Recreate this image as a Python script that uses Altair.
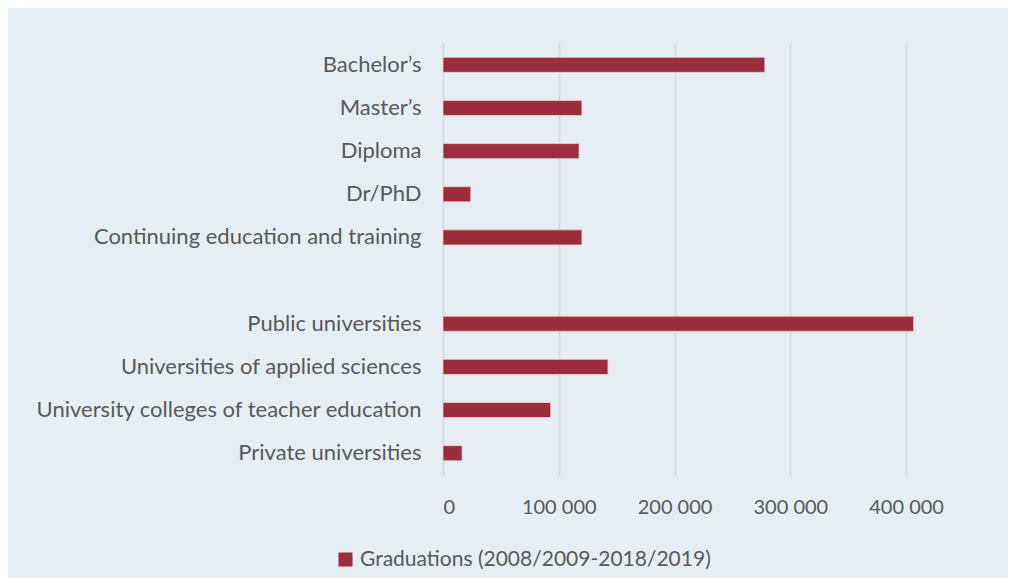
import altair as alt
import pandas as pd

categories = [
    "Bachelor’s",
    "Master’s",
    "Diploma",
    "Dr/PhD",
    "Continuing education and training",
    "Public universities",
    "Universities of applied sciences",
    "University colleges of teacher education",
    "Private universities",
]
values = [278000, 120000, 117500, 24000, 120000, 406500, 142500, 93000, 16500]
series_name = "Graduations (2008/2009-2018/2019)"
y_order = categories[:5] + [" "] + categories[5:]
x_ticks = [0, 100000, 200000, 300000, 400000]

df = pd.DataFrame({"category": categories, "value": values, "series": series_name})

FONT = "Lato"
TEXT = "#595959"

chart = (
    alt.Chart(df)
    .mark_bar(color="#9b2d3c", stroke="#e8d6da", strokeWidth=0.8)
    .encode(
        x=alt.X(
            "value:Q",
            scale=alt.Scale(domain=[0, 450000], nice=False),
            axis=alt.Axis(
                values=x_ticks,
                labelExpr="replace(format(datum.value, ',d'), /,/g, ' ')",
                title=None,
                domain=False,
                ticks=False,
                grid=True,
                gridColor="#d9d9d9",
                gridWidth=1.5,
                labelPadding=22,
                labelFontSize=20,
                labelColor=TEXT,
                labelFont=FONT,
            ),
        ),
        y=alt.Y(
            "category:N",
            sort=y_order,
            scale=alt.Scale(domain=y_order, paddingInner=0.65, paddingOuter=0.33),
            axis=alt.Axis(
                title=None,
                domain=True,
                domainColor="#d9d9d9",
                domainWidth=1.5,
                ticks=False,
                labelPadding=22,
                labelFontSize=22,
                labelColor=TEXT,
                labelFont=FONT,
                labelLimit=500,
            ),
        ),
        color=alt.Color(
            "series:N",
            scale=alt.Scale(range=["#9b2d3c"]),
            legend=alt.Legend(
                title=None,
                orient="none",
                legendX=-108,
                legendY=506,
                symbolType="square",
                symbolSize=196,
                labelFontSize=21,
                labelColor=TEXT,
                labelFont=FONT,
                labelLimit=600,
                labelOffset=4,
                symbolStrokeWidth=0,
            ),
        ),
    )
    .properties(
        width=521,
        height=432,
        background="#e6eef4",
        padding={"left": 435, "top": 35, "right": 44, "bottom": 103},
        autosize=alt.AutoSizeParams(type="none"),
    )
    .configure_view(stroke=None)
)

chart.save("out.html", embed_options={"renderer": "svg", "actions": False})
